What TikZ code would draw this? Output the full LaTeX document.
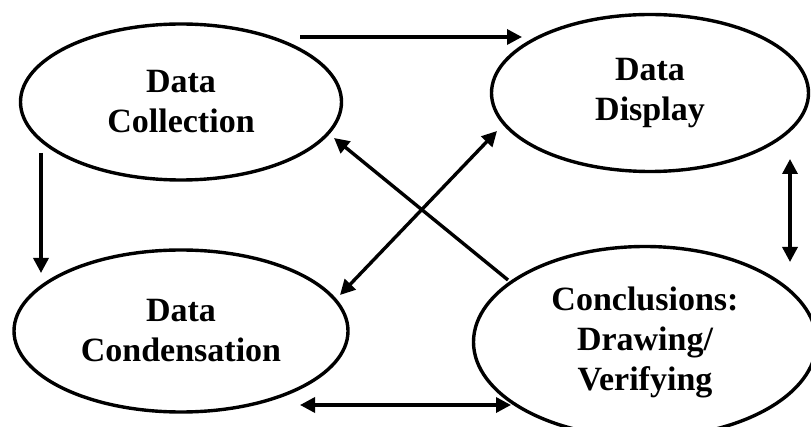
\documentclass[tikz,border=0pt]{standalone}
\usepackage{fontspec}
\setmainfont{Liberation Serif}
\usetikzlibrary{shapes.geometric,arrows.meta}

\begin{document}
\begin{tikzpicture}[x=1pt,y=-1pt,line width=3.4pt, >={Triangle[length=15pt,width=15pt]}]
	\tikzstyle{stage} = [ellipse,draw,inner sep=0pt,align=center,font=\fontsize{34}{40}\selectfont\bfseries]
	
	\useasboundingbox (0,0) rectangle (811,427);
	
	\node[stage,minimum width=321,minimum height=156](col) at (181,102){Data\\Collection};
	\node[stage,minimum width=317,minimum height=157](disp) at (650,93){Data\\Display};
	\node[stage,minimum width=334,minimum height=162](cond) at (181,331){Data\\Condensation};
	\node[stage,minimum width=343,minimum height=191](concl) at (645,342){Conclusions:\\Drawing/\\Verifying};
	
	% free ends of the connectors
	\coordinate (col-r) at (300,37);
	\coordinate (disp-l) at (522,37);
	\coordinate (col-b) at (41,153);
	\coordinate (cond-t) at (41,273);
	\coordinate (disp-b) at (790,159);
	\coordinate (concl-t) at (790,262);
	\coordinate (cond-r) at (300,405);
	\coordinate (concl-l) at (511,405);
	\coordinate (concl-tl) at (508,280);
	\coordinate (col-br) at (334,138);
	\coordinate (cond-tr) at (340,295);
	\coordinate (disp-bl) at (497,131);
	
	\path[->] (col-r) edge (disp-l)
	(col-b) edge (cond-t)
	(concl-tl) edge (col-br);
	
	\path[<->] (disp-b) edge (concl-t)
	(cond-r) edge (concl-l)
	(cond-tr) edge (disp-bl);
\end{tikzpicture}
\end{document}
